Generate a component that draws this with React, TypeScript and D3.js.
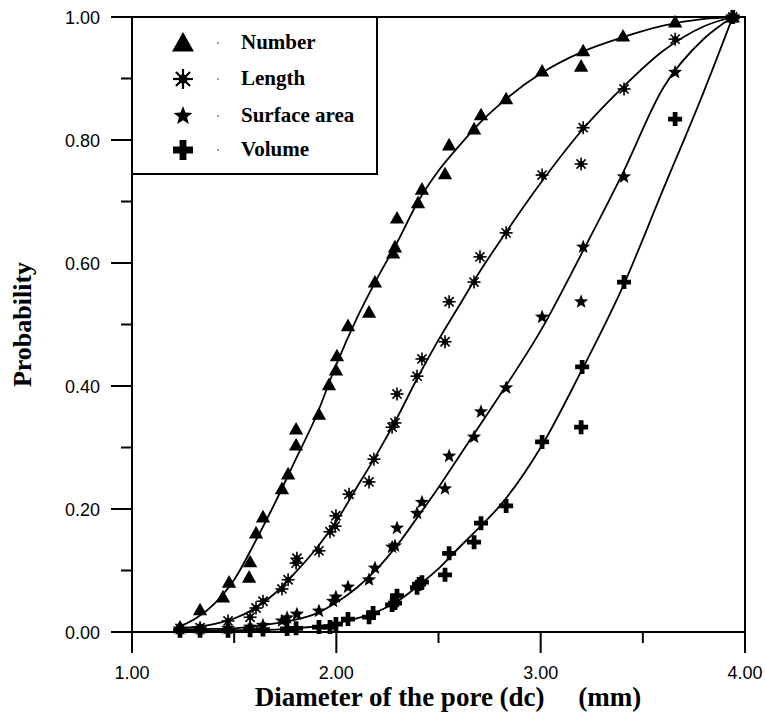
import React from 'react';
import * as d3 from 'd3';

const numberX = [1.235, 1.333, 1.445, 1.475, 1.573, 1.578, 1.607, 1.641, 1.734, 1.764, 1.803, 1.803, 1.915, 1.964, 1.998, 2.003, 2.057, 2.16, 2.189, 2.278, 2.287, 2.297, 2.4, 2.419, 2.532, 2.552, 2.674, 2.708, 2.831, 3.007, 3.198, 3.208, 3.403, 3.658, 3.94];
const numberY = [0.008, 0.036, 0.057, 0.081, 0.089, 0.114, 0.161, 0.187, 0.233, 0.257, 0.304, 0.33, 0.354, 0.402, 0.426, 0.449, 0.498, 0.52, 0.569, 0.616, 0.626, 0.673, 0.698, 0.72, 0.745, 0.792, 0.818, 0.841, 0.867, 0.912, 0.92, 0.945, 0.969, 0.992, 1.0];

const lengthX = [1.235, 1.333, 1.47, 1.578, 1.607, 1.641, 1.734, 1.764, 1.803, 1.807, 1.915, 1.969, 1.994, 1.998, 2.062, 2.16, 2.184, 2.273, 2.287, 2.297, 2.395, 2.419, 2.532, 2.552, 2.674, 2.703, 2.831, 3.007, 3.198, 3.208, 3.408, 3.658, 3.94];
const lengthY = [0.006, 0.007, 0.018, 0.024, 0.039, 0.05, 0.07, 0.085, 0.112, 0.12, 0.132, 0.163, 0.172, 0.189, 0.224, 0.244, 0.281, 0.333, 0.34, 0.387, 0.416, 0.444, 0.472, 0.537, 0.569, 0.61, 0.649, 0.743, 0.761, 0.82, 0.883, 0.964, 1.0];

const surfaceX = [1.235, 1.333, 1.47, 1.578, 1.641, 1.734, 1.759, 1.807, 1.915, 1.984, 1.998, 2.057, 2.16, 2.189, 2.273, 2.287, 2.297, 2.395, 2.419, 2.532, 2.552, 2.674, 2.708, 2.831, 3.007, 3.198, 3.208, 3.408, 3.658, 3.94];
const surfaceY = [0.005, 0.005, 0.006, 0.008, 0.011, 0.018, 0.023, 0.029, 0.034, 0.05, 0.057, 0.073, 0.085, 0.104, 0.138, 0.14, 0.169, 0.193, 0.211, 0.233, 0.286, 0.317, 0.358, 0.397, 0.512, 0.537, 0.626, 0.74, 0.91, 1.0];

const volumeX = [1.235, 1.333, 1.47, 1.578, 1.641, 1.759, 1.803, 1.915, 1.969, 1.998, 2.057, 2.16, 2.18, 2.273, 2.287, 2.297, 2.395, 2.405, 2.419, 2.532, 2.552, 2.674, 2.708, 2.831, 3.007, 3.198, 3.203, 3.408, 3.658, 3.94];
const volumeY = [0.002, 0.002, 0.002, 0.003, 0.004, 0.005, 0.006, 0.008, 0.008, 0.013, 0.021, 0.024, 0.031, 0.044, 0.047, 0.059, 0.072, 0.078, 0.081, 0.093, 0.128, 0.146, 0.177, 0.205, 0.309, 0.333, 0.431, 0.569, 0.834, 1.0];

// fitted curves, sampled off the figure
const fitX = [1.23, 1.4, 1.5, 1.6, 1.7, 1.8, 1.9, 2.0, 2.1, 2.2, 2.3, 2.4, 2.5, 2.6, 2.7, 2.8, 3.0, 3.2, 3.4, 3.6, 3.8, 3.94];
const numberFit = [0.008, 0.045, 0.085, 0.145, 0.21, 0.28, 0.35, 0.435, 0.51, 0.575, 0.635, 0.7, 0.75, 0.79, 0.827, 0.858, 0.908, 0.943, 0.967, 0.986, 0.997, 1.0];
const lengthFit = [0.006, 0.013, 0.022, 0.038, 0.063, 0.097, 0.135, 0.18, 0.235, 0.29, 0.35, 0.415, 0.475, 0.53, 0.585, 0.635, 0.73, 0.815, 0.885, 0.945, 0.985, 1.0];
const surfaceFit = [0.004, 0.005, 0.006, 0.009, 0.014, 0.02, 0.03, 0.048, 0.072, 0.103, 0.142, 0.188, 0.235, 0.285, 0.335, 0.385, 0.49, 0.615, 0.745, 0.885, 0.965, 1.0];
const volumeFit = [0.002, 0.002, 0.003, 0.003, 0.004, 0.006, 0.009, 0.014, 0.022, 0.033, 0.05, 0.075, 0.103, 0.137, 0.17, 0.205, 0.3, 0.425, 0.56, 0.72, 0.88, 1.0];

const legendLabels = ['Number', 'Length', 'Surface area', 'Volume'];
const xTicks = [1, 2, 3, 4];
const xMinor = [1.5, 2.5, 3.5];
const yTicks = [0, 0.2, 0.4, 0.6, 0.8, 1.0];
const yMinor = [0.1, 0.3, 0.5, 0.7, 0.9];

const W = 765, H = 715;
const margin = { left: 132, right: 20, top: 17, bottom: 83 };

const x = d3.scaleLinear().domain([1, 4]).range([margin.left, W - margin.right]);
const y = d3.scaleLinear().domain([0, 1]).range([H - margin.bottom, margin.top]);

const line = d3.line<[number, number]>()
  .x(d => x(d[0]))
  .y(d => y(d[1]))
  .curve(d3.curveMonotoneX);

const sans = '"Liberation Sans", Arial, sans-serif';
const serif = '"Liberation Serif", "Times New Roman", serif';

function Marker({ kind, cx, cy, s }: { kind: string; cx: number; cy: number; s: number }) {
  if (kind === 'triangle') {
    const pts = [[0, -0.55 * s], [0.55 * s, 0.42 * s], [-0.55 * s, 0.42 * s]]
      .map(p => `${cx + p[0]},${cy + p[1]}`).join(' ');
    return <polygon points={pts} fill="#000" />;
  }
  if (kind === 'asterisk') {
    const r = s / 2;
    return (
      <g stroke="#000" strokeWidth={s > 15 ? 2.2 : 1.6}>
        {[0, 45, 90, 135].map(a => {
          const t = (a * Math.PI) / 180;
          return <line key={a} x1={cx - r * Math.cos(t)} y1={cy - r * Math.sin(t)} x2={cx + r * Math.cos(t)} y2={cy + r * Math.sin(t)} />;
        })}
        <circle cx={cx} cy={cy} r={r * 0.45} fill="#000" stroke="none" />
      </g>
    );
  }
  if (kind === 'star') {
    const R = s / 2, r = R * 0.42;
    const pts = d3.range(10).map(i => {
      const rad = i % 2 === 0 ? R : r;
      const t = -Math.PI / 2 + (i * Math.PI) / 5;
      return `${cx + rad * Math.cos(t)},${cy + rad * Math.sin(t)}`;
    }).join(' ');
    return <polygon points={pts} fill="#000" />;
  }
  // plus
  const a = s / 2, b = s * 0.17;
  const d = `M${cx - b},${cy - a}H${cx + b}V${cy - b}H${cx + a}V${cy + b}H${cx + b}V${cy + a}H${cx - b}V${cy + b}H${cx - a}V${cy - b}H${cx - b}Z`;
  return <path d={d} fill="#000" />;
}

const series = [
  { kind: 'triangle', xs: numberX, ys: numberY, fit: numberFit, size: 13 },
  { kind: 'asterisk', xs: lengthX, ys: lengthY, fit: lengthFit, size: 13 },
  { kind: 'star', xs: surfaceX, ys: surfaceY, fit: surfaceFit, size: 15 },
  { kind: 'plus', xs: volumeX, ys: volumeY, fit: volumeFit, size: 14 },
];

export default function App() {
  const x0 = x.range()[0], x1 = x.range()[1];
  const y0 = y.range()[0], y1 = y.range()[1];
  const legendRows = [43, 79, 116, 150];

  return (
    <svg width={W} height={H} style={{ position: 'absolute', left: 0, top: 0, background: '#fff' }}>
      <rect width={W} height={H} fill="#fff" />

      {/* fitted curves */}
      {series.map((s, i) => (
        <path key={'fit' + i} d={line(fitX.map((v, j) => [v, s.fit[j]] as [number, number])) || ''}
          fill="none" stroke="#000" strokeWidth={1.8} />
      ))}

      {/* points */}
      {series.map((s, i) => (
        <g key={'pts' + i}>
          {s.xs.map((v, j) => (
            <Marker key={j} kind={s.kind} cx={x(v)} cy={y(s.ys[j])} s={s.size} />
          ))}
        </g>
      ))}

      {/* frame */}
      <rect x={x0} y={y1} width={x1 - x0} height={y0 - y1} fill="none" stroke="#000" strokeWidth={2} />

      {/* x axis ticks */}
      {xTicks.map(t => (
        <g key={'xt' + t}>
          <line x1={x(t)} x2={x(t)} y1={y0} y2={y0 + 21} stroke="#000" strokeWidth={2} />
          <text x={x(t)} y={y0 + 47} textAnchor="middle" fontFamily={sans} fontSize={18}>{t.toFixed(2)}</text>
        </g>
      ))}
      {xMinor.map(t => (
        <line key={'xm' + t} x1={x(t)} x2={x(t)} y1={y0} y2={y0 + 11} stroke="#000" strokeWidth={2} />
      ))}

      {/* y axis ticks */}
      {yTicks.map(t => (
        <g key={'yt' + t}>
          <line x1={x0 - 21} x2={x0} y1={y(t)} y2={y(t)} stroke="#000" strokeWidth={2} />
          <text x={x0 - 32} y={y(t) + 6.5} textAnchor="end" fontFamily={sans} fontSize={18}>{t.toFixed(2)}</text>
        </g>
      ))}
      {yMinor.map(t => (
        <line key={'ym' + t} x1={x0 - 11} x2={x0} y1={y(t)} y2={y(t)} stroke="#000" strokeWidth={2} />
      ))}

      {/* axis titles */}
      <text x={448} y={706} textAnchor="middle" fontFamily={serif} fontWeight="bold" fontSize={27}
        style={{ whiteSpace: 'pre' }}>{'Diameter of the pore (dc)     (mm)'}</text>
      <text transform={`translate(31,${(y0 + y1) / 2}) rotate(-90)`} textAnchor="middle"
        fontFamily={serif} fontWeight="bold" fontSize={26}>Probability</text>

      {/* legend */}
      <rect x={x0} y={y1} width={245} height={157} fill="#fff" stroke="#000" strokeWidth={2} />
      {series.map((s, i) => (
        <g key={'lg' + i}>
          <Marker kind={s.kind} cx={183} cy={legendRows[i]} s={s.kind === 'star' ? 20 : 20} />
          <circle cx={218} cy={legendRows[i]} r={0.7} fill="#000" />
          <text x={241} y={legendRows[i] + 6} fontFamily={serif} fontWeight="bold" fontSize={21}>{legendLabels[i]}</text>
        </g>
      ))}
    </svg>
  );
}
